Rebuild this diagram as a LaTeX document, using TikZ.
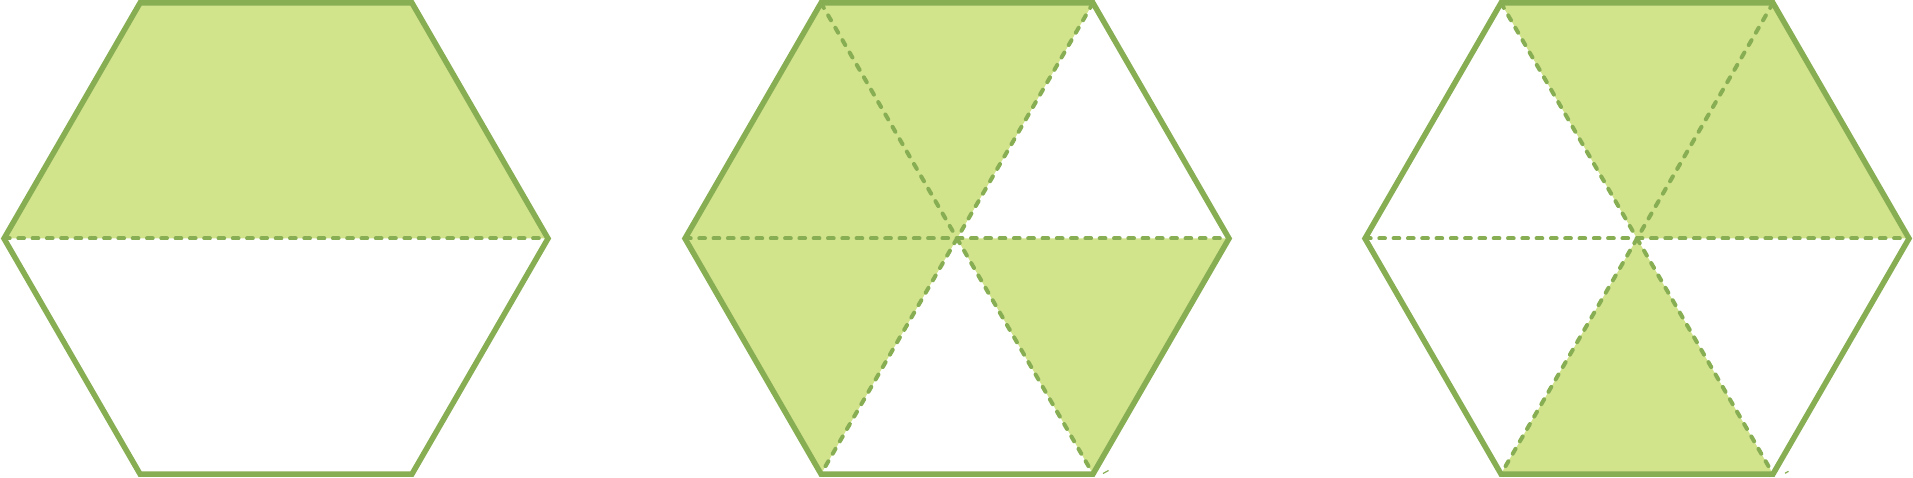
\documentclass[tikz,border=0pt]{standalone}
\definecolor{hexfill}{HTML}{D1E38B}
\definecolor{hexline}{HTML}{88AE54}
\begin{document}
\begin{tikzpicture}[x=1pt,y=1pt,
  outline/.style={draw=hexline,line width=5.5pt,line join=miter},
  divider/.style={draw=hexline,line width=4pt,line cap=round,dash pattern=on 5.7pt off 8.6pt},
  region/.style={fill=hexfill},
  tick/.style={draw=hexline,line width=1.2pt}]
\useasboundingbox (0,0) rectangle (1913,477);
\foreach \n/\cx in {a/276,b/957,c/1637}{
  \coordinate (\n O) at (\cx,238.5);
  \coordinate (\n0) at (\cx+272,238.5);
  \coordinate (\n1) at (\cx+136,474);
  \coordinate (\n2) at (\cx-136,474);
  \coordinate (\n3) at (\cx-272,238.5);
  \coordinate (\n4) at (\cx-136,3);
  \coordinate (\n5) at (\cx+136,3);
}
% hexagon 1: upper half shaded
\fill[region] (a1) -- (a2) -- (a3) -- (a0) -- cycle;
\draw[divider] (a3) -- (a0);
\draw[outline] (a0) -- (a1) -- (a2) -- (a3) -- (a4) -- (a5) -- cycle;
% hexagon 2: four of six triangles shaded
\fill[region] (bO) -- (b1) -- (b2) -- (b3) -- (b4) -- cycle;
\fill[region] (bO) -- (b5) -- (b0) -- cycle;
\draw[divider] (b3) -- (b0);
\draw[divider] (b2) -- (b5);
\draw[divider] (b1) -- (b4);
\draw[outline] (b0) -- (b1) -- (b2) -- (b3) -- (b4) -- (b5) -- cycle;
\draw[tick] ([shift={(10,0.5)}]b5) -- ([shift={(15.5,3.5)}]b5);
% hexagon 3: three of six triangles shaded
\fill[region] (cO) -- (c0) -- (c1) -- (c2) -- cycle;
\fill[region] (cO) -- (c4) -- (c5) -- cycle;
\draw[divider] (c3) -- (c0);
\draw[divider] (c2) -- (c5);
\draw[divider] (c1) -- (c4);
\draw[outline] (c0) -- (c1) -- (c2) -- (c3) -- (c4) -- (c5) -- cycle;
\draw[tick] ([shift={(12,0.7)}]c5) -- ([shift={(15.5,2.7)}]c5);
\end{tikzpicture}
\end{document}
